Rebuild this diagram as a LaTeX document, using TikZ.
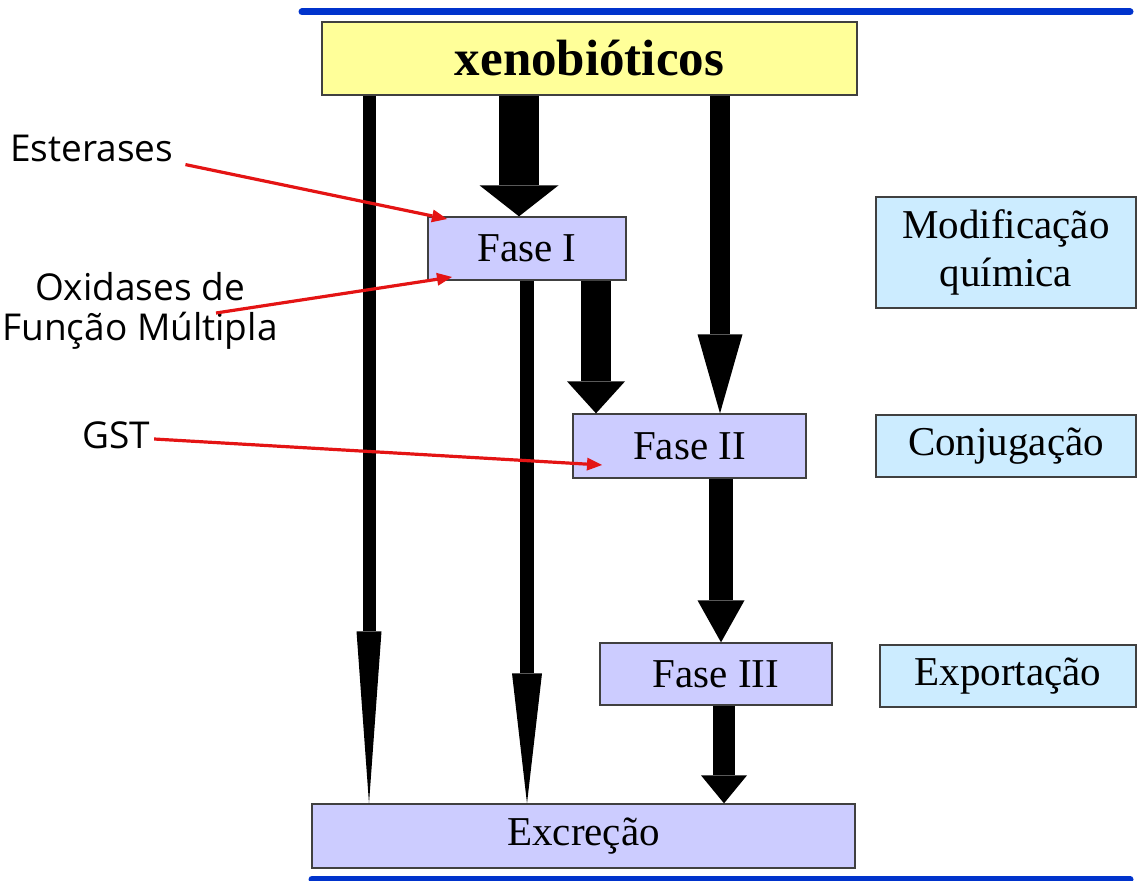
\documentclass[tikz,border=0pt]{standalone}
\usepackage{fontspec}
\setmainfont{Liberation Serif}
\newfontfamily\notefont{Open Sans}
\usetikzlibrary{arrows.meta}

\definecolor{xenoyellow}{RGB}{255,255,153}
\definecolor{faselilac}{RGB}{204,204,255}
\definecolor{stageblue}{RGB}{204,236,255}
\definecolor{rulerblue}{RGB}{0,51,204}
\definecolor{enzred}{RGB}{228,20,20}

\tikzset{
  box/.style={draw=black!75, line width=1.3pt, inner sep=0pt, align=center,
    font=\fontsize{41}{48}\selectfont},
  fasebox/.style={box, fill=faselilac},
  stagebox/.style={box, fill=stageblue},
  note/.style={inner sep=2pt, align=center, font=\notefont\fontsize{37}{40}\selectfont},
  flow/.style n args={3}{line width=#1, -{Triangle[width=#2, length=#3, line width=0pt]}},
  enz/.style={draw=enzred, line width=3.2pt, -{Triangle[length=15pt, width=13pt, line width=0pt]}},
  ruler/.style={draw=rulerblue, line width=7pt, line cap=round}
}

\begin{document}
\begin{tikzpicture}[x=1pt, y=-1pt]
    \useasboundingbox (0,0) rectangle (1139,880);

    % Rulers
    \draw[ruler] (302,12) -- (1130,12);
    \draw[ruler] (312,879) -- (1130,879);

    % Nodes
    \node[box, fill=xenoyellow, minimum width=535pt, minimum height=73pt,
      font=\fontsize{51}{60}\selectfont\bfseries] (xeno) at (589.5,58.5) {xenobióticos};
    \node[fasebox, minimum width=198pt, minimum height=63pt] (fase1) at (527,248.5) {Fase I};
    \node[fasebox, minimum width=233pt, minimum height=64pt] (fase2) at (689.5,446) {Fase II};
    \node[fasebox, minimum width=232pt, minimum height=62pt] (fase3) at (716,674) {Fase III};
    \node[fasebox, minimum width=543pt, minimum height=64pt] (exc) at (583.5,836) {Excreção};

    \node[stagebox, minimum width=260pt, minimum height=111pt] (modif) at (1006,252.5) {Modificação\\química};
    \node[stagebox, minimum width=260pt, minimum height=62pt] (conj) at (1006,446) {Conjugação};
    \node[stagebox, minimum width=256pt, minimum height=62pt] (export) at (1008,676) {Exportação};

    \node[note, anchor=west] (est) at (8,148) {Esterases};
    \node[note] (oxi) at (140,311) {Oxidases de\\Função Múltipla};
    \node[note, anchor=west] (gst) at (80,435) {GST};

    % Columns of the flow arrows
    \coordinate (c1) at (369,0);
    \coordinate (c2) at (519,0);
    \coordinate (c3) at (720,0);
    \coordinate (c4) at (527,0);
    \coordinate (c5) at (596,0);
    \coordinate (c6) at (721,0);
    \coordinate (c7) at (724,0);

    % Flow arrows
    \draw[flow={13pt}{25pt}{172pt}] (xeno.south -| c1) -- (exc.north -| c1);
    \draw[flow={40pt}{79pt}{31pt}] (xeno.south -| c2) -- (fase1.north -| c2);
    \draw[flow={20pt}{45pt}{79pt}] (xeno.south -| c3) -- (fase2.north -| c3);
    \draw[flow={14pt}{30pt}{130pt}] (fase1.south -| c4) -- (exc.north -| c4);
    \draw[flow={30pt}{58pt}{32pt}] (fase1.south -| c5) -- (fase2.north -| c5);
    \draw[flow={24pt}{47pt}{42pt}] (fase2.south -| c6) -- (fase3.north -| c6);
    \draw[flow={22pt}{46pt}{28pt}] (fase3.south -| c7) -- (exc.north -| c7);

    % Enzyme arrows
    \coordinate (estTip) at (447,219);
    \coordinate (oxiTip) at (452,277);
    \coordinate (gstTip) at (602,465);
    \draw[enz] ([xshift=10pt,yshift=-1pt]est.south east) -- (estTip);
    \draw[enz] ([xshift=76pt,yshift=-2pt]oxi.center) -- (oxiTip);
    \draw[enz] ([xshift=2pt,yshift=-4pt]gst.east) -- (gstTip);
\end{tikzpicture}
\end{document}
